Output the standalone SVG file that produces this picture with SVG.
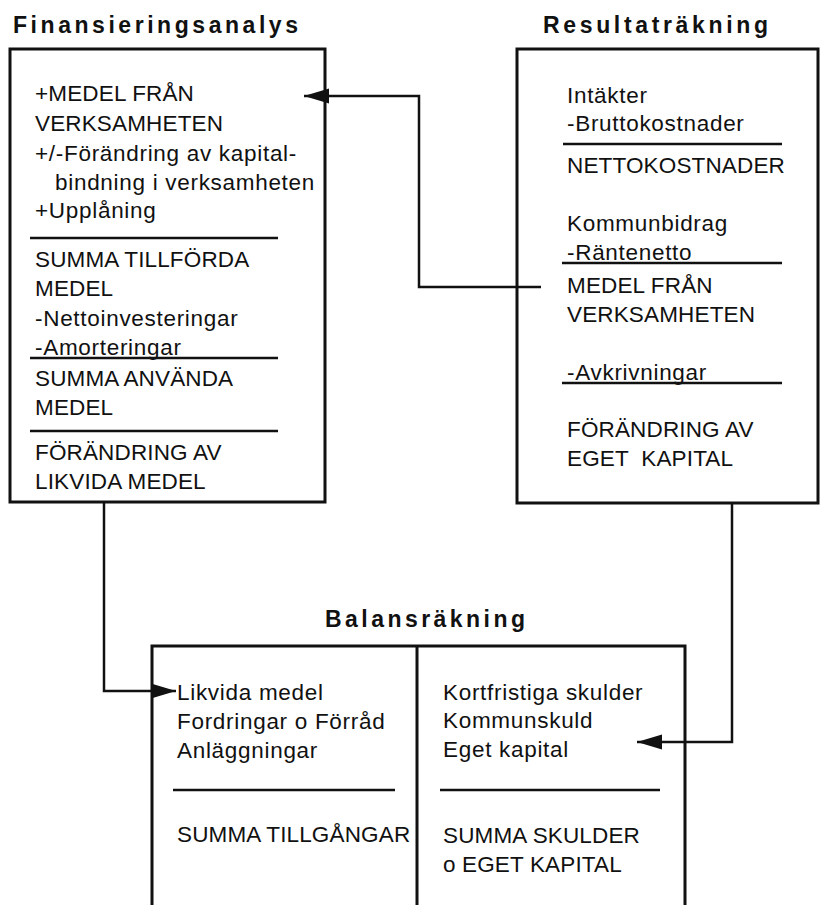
<svg xmlns="http://www.w3.org/2000/svg" width="820" height="905" viewBox="0 0 820 905">
<style>
  .title { font-family: "Liberation Sans", Arial, sans-serif; font-weight: bold; font-size: 23px; fill: #111; }
  .t { font-family: "Liberation Sans", Arial, sans-serif; font-size: 22.5px; letter-spacing: 0.7px; fill: #111; }
  .c { letter-spacing: 0.15px; }
  .box { fill: none; stroke: #111; stroke-width: 3; }
  .sep { stroke: #111; stroke-width: 2.5; }
  .conn { fill: none; stroke: #111; stroke-width: 2.5; }
</style>
<defs>
  <marker id="arrow" markerUnits="userSpaceOnUse" markerWidth="26" markerHeight="18" refX="25" refY="9" orient="auto">
    <path d="M0,1.5 L25,9 L0,16.5 z" fill="#111"/>
  </marker>
</defs>
<rect width="820" height="905" fill="#fff"/>

<g id="finansieringsanalys">
  <text class="title" x="13" y="33" textLength="285" lengthAdjust="spacing">Finansieringsanalys</text>
  <rect class="box" x="10" y="49" width="315" height="453"/>
  <text class="t c" x="35" y="101">+MEDEL FRÅN</text>
  <text class="t c" x="35" y="131">VERKSAMHETEN</text>
  <text class="t" x="35" y="161">+/-Förändring av kapital-</text>
  <text class="t" x="55" y="190">bindning i verksamheten</text>
  <text class="t" x="35" y="218">+Upplåning</text>
  <line class="sep" x1="30" y1="238" x2="278" y2="238"/>
  <text class="t c" x="35" y="267">SUMMA TILLFÖRDA</text>
  <text class="t c" x="35" y="296">MEDEL</text>
  <text class="t" x="35" y="326">-Nettoinvesteringar</text>
  <text class="t" x="35" y="355">-Amorteringar</text>
  <line class="sep" x1="30" y1="358" x2="278" y2="358"/>
  <text class="t c" x="35" y="386">SUMMA ANVÄNDA</text>
  <text class="t c" x="35" y="415">MEDEL</text>
  <line class="sep" x1="30" y1="431" x2="278" y2="431"/>
  <text class="t c" x="35" y="460">FÖRÄNDRING AV</text>
  <text class="t c" x="35" y="489">LIKVIDA MEDEL</text>
</g>

<g id="resultatrakning">
  <text class="title" x="543" y="33" textLength="225" lengthAdjust="spacing">Resultaträkning</text>
  <rect class="box" x="517" y="49" width="301" height="454"/>
  <text class="t" x="567" y="103">Intäkter</text>
  <text class="t" x="567" y="131">-Bruttokostnader</text>
  <line class="sep" x1="563" y1="144" x2="782" y2="144"/>
  <text class="t c" x="567" y="173">NETTOKOSTNADER</text>
  <text class="t" x="567" y="231">Kommunbidrag</text>
  <text class="t" x="567" y="260">-Räntenetto</text>
  <line class="sep" x1="562" y1="263" x2="782" y2="263"/>
  <text class="t c" x="567" y="293">MEDEL FRÅN</text>
  <text class="t c" x="567" y="322">VERKSAMHETEN</text>
  <text class="t" x="567" y="380">-Avkrivningar</text>
  <line class="sep" x1="562" y1="383" x2="782" y2="383"/>
  <text class="t c" x="567" y="437">FÖRÄNDRING AV</text>
  <text class="t c" x="567" y="466" xml:space="preserve">EGET  KAPITAL</text>
</g>

<g id="balansrakning">
  <text class="title" x="325" y="627" textLength="200" lengthAdjust="spacing">Balansräkning</text>
  <text class="t" x="177" y="700">Likvida medel</text>
  <text class="t" x="177" y="729">Fordringar o Förråd</text>
  <text class="t" x="177" y="758">Anläggningar</text>
  <line class="sep" x1="173" y1="790" x2="395" y2="790"/>
  <text class="t c" x="177" y="842">SUMMA TILLGÅNGAR</text>
  <text class="t" x="443" y="700">Kortfristiga skulder</text>
  <text class="t" x="443" y="728">Kommunskuld</text>
  <text class="t" x="443" y="757">Eget kapital</text>
  <line class="sep" x1="440" y1="790" x2="660" y2="790"/>
  <text class="t c" x="443" y="843">SUMMA SKULDER</text>
  <text class="t c" x="443" y="872">o EGET KAPITAL</text>
  <path class="box" d="M152,910 V646 H685 V910"/>
  <path class="box" d="M417,646 V910"/>
</g>

<g id="connectors">
  <path class="conn" d="M541,287 H419 V96 H304" marker-end="url(#arrow)"/>
  <path class="conn" d="M104,502 V691 H176" marker-end="url(#arrow)"/>
  <path class="conn" d="M732,503 V742 H637" marker-end="url(#arrow)"/>
</g>
</svg>
